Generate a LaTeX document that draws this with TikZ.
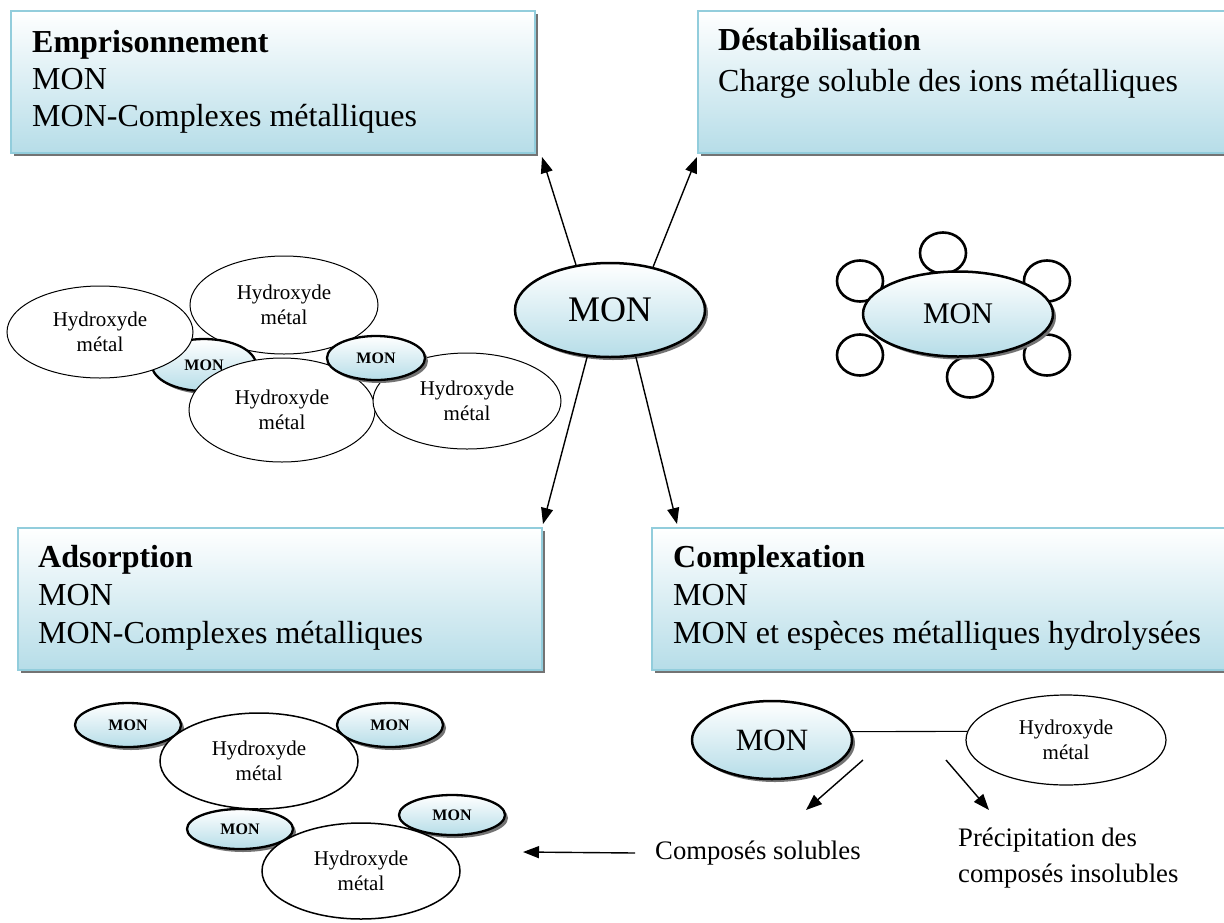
\documentclass[tikz,border=0pt]{standalone}
\usepackage{fontspec}
\setmainfont{Liberation Serif}
\usetikzlibrary{shapes.geometric,shadows,arrows.meta}
\definecolor{boxblue}{HTML}{B6DDE8}
\definecolor{edgeblue}{HTML}{92CDDC}
\newcommand{\fsz}[2]{\fontsize{#1}{#2}\selectfont}
\begin{document}
\begin{tikzpicture}[x=1pt,y=-1pt,
  hshadow/.style={general shadow={fill=black!55, shadow xshift=3pt, shadow yshift=-3pt}},
  panel/.style={rectangle, draw=edgeblue, line width=2pt, top color=white, bottom color=boxblue, hshadow, anchor=north west, inner sep=0pt},
  paneltxt/.style={anchor=base west, inner sep=0pt, font=\fsz{32}{38}},
  paneltitle/.style={anchor=base west, inner sep=0pt, font=\fsz{32}{38}\bfseries},
  monbig/.style={ellipse, draw=black, line width=2.5pt, top color=white, bottom color=boxblue, hshadow, inner sep=0pt},
  monsmall/.style={monbig, line width=2.3pt, font=\fsz{16}{18}\bfseries},
  hyd/.style={ellipse, draw=black, line width=1pt, fill=white, inner sep=0pt, align=center, font=\fsz{21}{25.5}},
  ring/.style={ellipse, draw=black, line width=2.6pt, fill=white, minimum width=46pt, minimum height=41pt, inner sep=0pt},
  arr/.style={draw=black, line width=1.4pt, -{Triangle[length=16pt,width=12pt]}},
  note/.style={inner sep=0pt, anchor=west, font=\fsz{26.7}{37}}
]
\useasboundingbox (0,0) rectangle (1224,922);
\clip (0,0) rectangle (1224,922);

% panels
\node[panel, minimum width=524pt, minimum height=142pt] (emp) at (10,10) {};
\node[paneltitle] (empA) at (32,52) {Emprisonnement};
\node[paneltxt] (empB) at (32,89) {MON};
\node[paneltxt] (empC) at (32,126) {MON-Complexes métalliques};

\node[panel, minimum width=560pt, minimum height=142pt] (dest) at (697,10) {};
\node[paneltitle] (destA) at (718,50) {Déstabilisation};
\node[paneltxt] (destB) at (718,91) {Charge soluble des ions métalliques};

\node[panel, minimum width=524pt, minimum height=142pt] (ads) at (17,527) {};
\node[paneltitle] (adsA) at (38,567) {Adsorption};
\node[paneltxt] (adsB) at (38,605) {MON};
\node[paneltxt] (adsC) at (38,643) {MON-Complexes métalliques};

\node[panel, minimum width=600pt, minimum height=142pt] (comp) at (651,527) {};
\node[paneltitle] (compA) at (673,567) {Complexation};
\node[paneltxt] (compB) at (673,605) {MON};
\node[paneltxt] (compC) at (673,643) {MON et espèces métalliques hydrolysées};

% central MON
\node[monbig, minimum width=190pt, minimum height=94pt, font=\fsz{36}{40}] (mon) at (610,310) {MON};
\draw[arr] (mon.127) -- ([xshift=6pt,yshift=-3pt]emp.south east);
\draw[arr] (mon.45) -- ([yshift=-3pt]dest.south west);
\draw[arr] (mon.244) -- ([yshift=3pt]ads.north east);
\draw[arr] (mon.299) -- ([xshift=26pt,yshift=3pt]comp.north west);

% left cluster (emprisonnement)
\node[hyd, minimum width=188pt, minimum height=98pt] (h2) at (284,305) {Hydroxyde\\métal};
\node[monsmall, minimum width=104pt, minimum height=52pt] (m1) at (204,365) {MON};
\node[hyd, minimum width=186pt, minimum height=92pt] (h1) at (100,332) {Hydroxyde\\métal};
\node[hyd, minimum width=186pt, minimum height=104pt] (h3) at (282,410) {Hydroxyde\\métal};
\node[hyd, minimum width=188pt, minimum height=96pt] (h4) at (467,401) {Hydroxyde\\métal};
\node[monsmall, minimum width=98pt, minimum height=44pt] (m2) at (376,358) {MON};

% right cluster (destabilisation)
\node[ring] (r1) at (943,253) {};
\node[ring] (r2) at (860,281) {};
\node[ring] (r3) at (1047,281) {};
\node[ring] (r4) at (860,355) {};
\node[ring] (r5) at (1047,355) {};
\node[ring] (r6) at (970,377) {};
\node[monbig, minimum width=190pt, minimum height=85pt, font=\fsz{30}{34}] (mon2) at (958,314) {MON};

% bottom-left cluster (adsorption)
\node[monsmall, minimum width=106pt, minimum height=44pt] (ma) at (128,725) {MON};
\node[monsmall, minimum width=106pt, minimum height=44pt] (mb) at (390,725) {MON};
\node[monsmall, minimum width=106pt, minimum height=40pt] (mc) at (240,829) {MON};
\node[monsmall, minimum width=106pt, minimum height=40pt] (md) at (452,815) {MON};
\node[hyd, line width=1.5pt, minimum width=198pt, minimum height=96pt] (ht) at (259,761) {Hydroxyde\\métal};
\node[hyd, line width=1.5pt, minimum width=198pt, minimum height=96pt] (hb) at (361,871) {Hydroxyde\\métal};

% bottom-right (complexation)
\node[monbig, minimum width=160pt, minimum height=78pt, font=\fsz{31}{34}] (mon3) at (772,740) {MON};
\node[hyd, line width=1.2pt, minimum width=200pt, minimum height=90pt] (h5) at (1066,740) {Hydroxyde\\métal};
\draw[line width=1.1pt] (mon3.6) -- (h5.175);
\coordinate (c1s) at (863,760);
\coordinate (c1e) at (806,810);
\coordinate (c2s) at (946,760);
\coordinate (c2e) at (989,810);
\draw[arr] (c1s) -- (c1e);
\draw[arr] (c2s) -- (c2e);
\node[note] (sol) at (655,853) {Composés solubles};
\coordinate (solTip) at (523,852);
\draw[arr] ([xshift=-20pt]sol.west) -- (solTip);
\node[note] (precA) at (958,840) {Précipitation des};
\node[note] (precB) at (958,876) {composés insolubles};
\end{tikzpicture}
\end{document}
